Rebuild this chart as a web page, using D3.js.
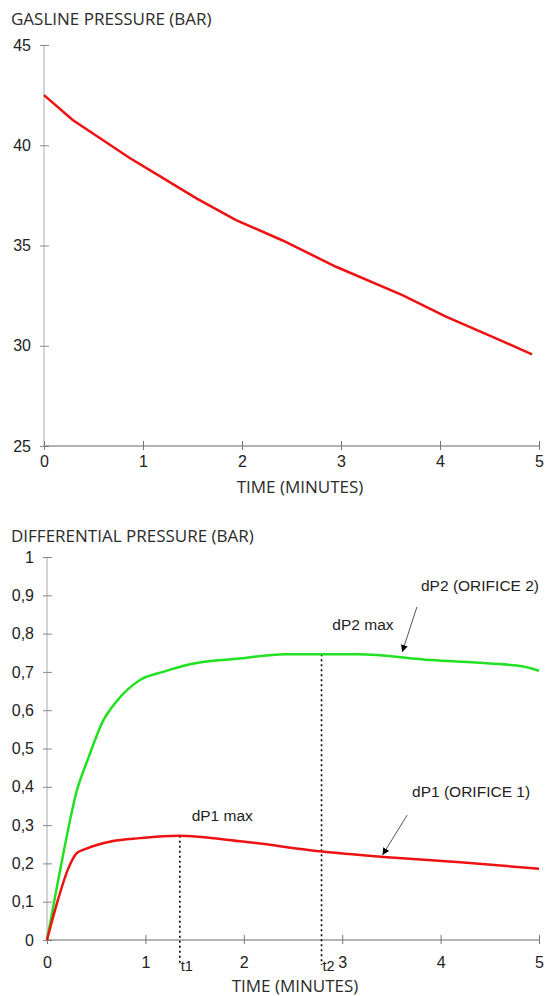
<!DOCTYPE html>
<html>
<head>
<meta charset="utf-8">
<script src="https://cdn.jsdelivr.net/npm/d3@7"></script>
<style>
  body { margin: 0; background: #fff; }
  .title, .axis-title { font-family: "Open Sans", sans-serif; fill: #2b2b2b; }
  .tick text, .note { font-family: "Liberation Sans", Arial, sans-serif; fill: #222; }
</style>
</head>
<body>
<div id="chart"></div>
<script>
// tick values
var timeTicks = [0, 1, 2, 3, 4, 5];
var gasTicks = [25, 30, 35, 40, 45];
var dpTicks = [0, 0.1, 0.2, 0.3, 0.4, 0.5, 0.6, 0.7, 0.8, 0.9, 1];
var dpTickLabels = ["0", "0,1", "0,2", "0,3", "0,4", "0,5", "0,6", "0,7", "0,8", "0,9", "1"];

// gasline pressure (bar) vs time (minutes)
var gasTime = [0, 0.29, 0.87, 1.14, 1.54, 1.94, 2.41, 2.95, 3.62, 4.06, 4.6, 4.93];
var gasPressure = [42.5, 41.26, 39.35, 38.55, 37.35, 36.27, 35.25, 33.94, 32.53, 31.45, 30.29, 29.57];

// differential pressure (bar)
var dp2Time = [0, 0.08, 0.166, 0.3, 0.42, 0.57, 0.71, 0.945, 1.18, 1.42, 1.96, 2.42, 3.16, 3.9, 4.5, 4.84, 5];
var dp2Values = [0, 0.11, 0.226, 0.387, 0.475, 0.572, 0.624, 0.679, 0.70, 0.718, 0.735, 0.746, 0.746, 0.731, 0.722, 0.714, 0.703];
var dp1Time = [0, 0.1, 0.217, 0.3, 0.386, 0.66, 0.945, 1.33, 1.99, 2.79, 3.42, 4.2, 5];
var dp1Values = [0, 0.095, 0.187, 0.226, 0.237, 0.258, 0.266, 0.272, 0.257, 0.231, 0.217, 0.203, 0.186];

var t1 = 1.35, t2 = 2.79;

var width = 547, height = 996;

var svg = d3.select("#chart").append("svg")
    .attr("width", width)
    .attr("height", height);

// arrow head
svg.append("defs").append("marker")
    .attr("id", "arrow")
    .attr("viewBox", "0 0 10 10")
    .attr("refX", 10).attr("refY", 5)
    .attr("markerWidth", 7).attr("markerHeight", 7)
    .attr("markerUnits", "userSpaceOnUse")
    .attr("orient", "auto")
  .append("path")
    .attr("d", "M0,0L10,5L0,10Z")
    .attr("fill", "#000");

// draws one axis pair, ticks crossing the axis lines
function drawAxes(g, x, y, yTicks, yFmt, xLabelY) {
  var ya = g.append("g")
      .attr("transform", "translate(" + x.range()[0] + ",0)")
      .call(d3.axisLeft(y).tickValues(yTicks).tickFormat(yFmt).tickSize(4).tickPadding(9));
  ya.select(".domain").attr("stroke", "#aaa").attr("d", "M0," + y.range()[0] + "V" + y.range()[1]);
  ya.selectAll(".tick line").attr("stroke", "#888").attr("x1", -4).attr("x2", 5);
  ya.selectAll(".tick text").style("font-size", "16px");

  var xa = g.append("g")
      .attr("transform", "translate(0," + y.range()[0] + ")")
      .call(d3.axisBottom(x).tickValues(timeTicks).tickFormat(d3.format("d")).tickSize(4));
  xa.select(".domain").attr("stroke", "#666").attr("d", "M" + x.range()[0] + ",0H" + x.range()[1]);
  xa.selectAll(".tick line").attr("stroke", "#777").attr("y1", -5).attr("y2", 4);
  xa.selectAll(".tick text").style("font-size", "16px").attr("y", xLabelY).attr("dy", 0);
}

// ---------- top chart: gasline pressure ----------
var x1 = d3.scaleLinear().domain([0, 5]).range([44, 539]);
var y1 = d3.scaleLinear().domain([25, 45]).range([446, 45]);
var topChart = svg.append("g");

topChart.append("text").attr("class", "title")
    .attr("x", 11).attr("y", 25)
    .style("font-size", "17px")
    .text("GASLINE PRESSURE (BAR)");

drawAxes(topChart, x1, y1, gasTicks, d3.format("d"), 21);

topChart.append("text").attr("class", "axis-title")
    .attr("x", 300).attr("y", 493)
    .attr("text-anchor", "middle")
    .style("font-size", "17px")
    .text("TIME (MINUTES)");

topChart.append("path")
    .datum(gasTime.map(function(t, i) { return [t, gasPressure[i]]; }))
    .attr("fill", "none")
    .attr("stroke", "#ee1111")
    .attr("stroke-width", 2.5)
    .attr("d", d3.line()
        .x(function(d) { return x1(d[0]); })
        .y(function(d) { return y1(d[1]); }));

// ---------- bottom chart: differential pressure ----------
var x2 = d3.scaleLinear().domain([0, 5]).range([47, 539]);
var y2 = d3.scaleLinear().domain([0, 1]).range([940, 557]);
var botChart = svg.append("g");

botChart.append("text").attr("class", "title")
    .attr("x", 11).attr("y", 542)
    .style("font-size", "17px")
    .text("DIFFERENTIAL PRESSURE (BAR)");

drawAxes(botChart, x2, y2, dpTicks, function(d, i) { return dpTickLabels[i]; }, 28);

botChart.append("text").attr("class", "axis-title")
    .attr("x", 295).attr("y", 992)
    .attr("text-anchor", "middle")
    .style("font-size", "17px")
    .text("TIME (MINUTES)");

var line2 = d3.line()
    .x(function(d) { return x2(d[0]); })
    .y(function(d) { return y2(d[1]); })
    .curve(d3.curveMonotoneX);

// dotted markers at t1 and t2
var peak1 = d3.max(dp1Values), peak2 = d3.max(dp2Values);
[[t1, peak1, "t1"], [t2, peak2, "t2"]].forEach(function(m) {
  botChart.append("line")
      .attr("x1", x2(m[0])).attr("x2", x2(m[0]))
      .attr("y1", y2(m[1])).attr("y2", y2(0) + 25)
      .attr("stroke", "#000")
      .attr("stroke-width", 1.6)
      .attr("stroke-dasharray", "2,3");
  botChart.append("text").attr("class", "note")
      .attr("x", x2(m[0]) + 1).attr("y", y2(0) + 31)
      .style("font-size", "14.5px")
      .text(m[2]);
});

botChart.append("path")
    .datum(dp2Time.map(function(t, i) { return [t, dp2Values[i]]; }))
    .attr("fill", "none")
    .attr("stroke", "#22e022")
    .attr("stroke-width", 2.5)
    .attr("d", line2);

botChart.append("path")
    .datum(dp1Time.map(function(t, i) { return [t, dp1Values[i]]; }))
    .attr("fill", "none")
    .attr("stroke", "#ee1111")
    .attr("stroke-width", 2.5)
    .attr("d", line2);

// annotations
var notes = [
  {text: "dP2 (ORIFICE 2)", t: 5.0, v: 0.91, anchor: "end"},
  {text: "dP2 max", t: 2.9, v: 0.81, anchor: "start"},
  {text: "dP1 (ORIFICE 1)", t: 3.71, v: 0.373, anchor: "start"},
  {text: "dP1 max", t: 1.47, v: 0.311, anchor: "start"}
];
notes.forEach(function(n) {
  botChart.append("text").attr("class", "note")
      .attr("x", x2(n.t)).attr("y", y2(n.v))
      .attr("text-anchor", n.anchor)
      .style("font-size", "15.5px")
      .text(n.text);
});

var arrows = [
  {from: [3.76, 0.87], to: [3.61, 0.752]},
  {from: [3.66, 0.326], to: [3.41, 0.222]}
];
arrows.forEach(function(a) {
  botChart.append("line")
      .attr("x1", x2(a.from[0])).attr("y1", y2(a.from[1]))
      .attr("x2", x2(a.to[0])).attr("y2", y2(a.to[1]))
      .attr("stroke", "#555")
      .attr("stroke-width", 1)
      .attr("marker-end", "url(#arrow)");
});
</script>
</body>
</html>
